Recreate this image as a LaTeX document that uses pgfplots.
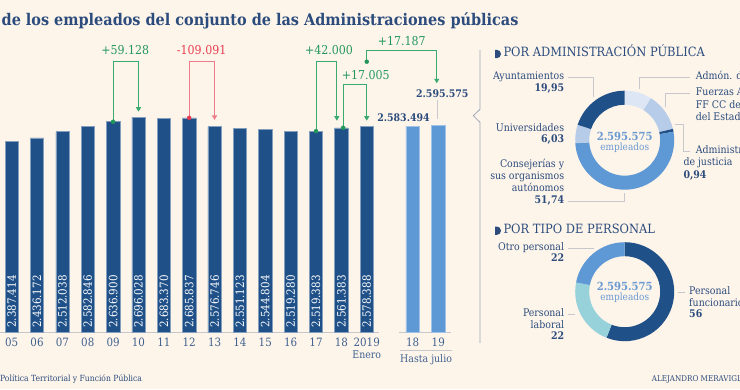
\documentclass[border=0pt]{standalone}
\usepackage{fontspec}
\setmainfont{DejaVu Serif Condensed}
\usepackage{pgfplots}
\usepackage{pgfplotstable}
\pgfplotsset{compat=1.18}
\usetikzlibrary{arrows.meta}
\definecolor{bg}{HTML}{FDF4EA}
\definecolor{barD}{HTML}{1F5088}
\definecolor{barL}{HTML}{5F99D5}
\definecolor{txt}{HTML}{2B4C7C}
\definecolor{tickc}{HTML}{3F618F}
\definecolor{grn}{HTML}{21975A}
\definecolor{grnL}{HTML}{3BAA6E}
\definecolor{rd}{HTML}{E63B4E}
\definecolor{rdL}{HTML}{EE7D8A}
\definecolor{gry}{HTML}{C6C8CE}
\definecolor{sep}{HTML}{9EA6B8}
\definecolor{cen}{HTML}{6A9AD2}
\definecolor{dlA}{HTML}{DCE6F4}
\definecolor{dlB}{HTML}{B7CCE9}
\definecolor{cyn}{HTML}{97D2DB}
\newcommand\fs[1]{\fontsize{#1}{#1}\selectfont}
\pgfplotstableread{
x y lab
0 2387414 2.387.414
1 2436172 2.436.172
2 2512038 2.512.038
3 2582846 2.582.846
4 2636900 2.636.900
5 2696028 2.696.028
6 2683370 2.683.370
7 2685837 2.685.837
8 2576746 2.576.746
9 2551123 2.551.123
10 2544804 2.544.804
11 2519280 2.519.280
12 2519383 2.519.383
13 2561383 2.561.383
14 2578388 2.578.388
}\darkbars
\pgfplotstableread{
x y
15.81 2583494
16.82 2595575
}\lightbars
\newcommand{\donutseg}[3]{%
  \fill[#3] (axis cs:0,0) ++({90-3.6*#1}:49.5bp) arc[start angle={90-3.6*#1}, end angle={90-3.6*#2}, radius=49.5bp]
   -- ++({90-3.6*#2}:-14bp) arc[start angle={90-3.6*#2}, end angle={90-3.6*#1}, radius=35.5bp] -- cycle;}
\begin{document}
\begin{tikzpicture}[x=1bp,y=1bp]
\useasboundingbox (0,0) rectangle (740,389);
\fill[bg] (0,0) rectangle (740,389);
\clip (0,0) rectangle (740,389);
% title
\node[anchor=base west, inner sep=0, text=txt, font=\fs{16.1}\bfseries] at (1.5,364) {de los empleados del conjunto de las Administraciones públicas};
% source
\node[anchor=mid west, inner sep=0, text=txt, font=\fs{8.5}] at (0,10) {Política Territorial y Función Pública};
\node[anchor=mid west, inner sep=0, text=txt, font=\fs{8}] at (651.7,10) {ALEJANDRO MERAVIGLIA};
% main bar chart
\begin{axis}[at={(0bp,56.3bp)}, anchor=south west, scale only axis,
  width=455.5bp, height=312.7bp, xmin=-0.461, xmax=17.5, ymin=0, ymax=3908750,
  axis line style={draw=none}, ytick=\empty, major tick length=0pt,
  xtick={0,1,2,3,4,5,6,7,8,9,10,11,12,13,14,15.81,16.82},
  xticklabels={05,06,07,08,09,10,11,12,13,14,15,16,17,18,2019,18,19},
  xticklabel style={anchor=center, yshift=-9.3bp, font=\fs{11.5}, text=tickc},
  clip=false]
\draw[gry, line width=1bp] (axis cs:-0.47,0) -- (axis cs:14.5,0);
\draw[gry, line width=1bp] (axis cs:15.28,0) -- (axis cs:17.32,0);
\addplot[ybar, bar width=13.3bp, bar shift=0pt, fill=barD, draw=barD!55!white, line width=0.5bp] table[x=x,y=y]{\darkbars};
\addplot[ybar, bar width=13.3bp, bar shift=0pt, fill=barL, draw=barL!60!white, line width=0.5bp] table[x=x,y=y]{\lightbars};
\addplot[draw=none, mark=none, point meta=explicit symbolic, nodes near coords,
  every node near coord/.style={rotate=90, anchor=west, text=white, inner xsep=4.7bp, inner ysep=0pt, font=\fs{11.5}}]
  table[x=x, y expr=0, meta=lab]{\darkbars};
% connectors
\draw[grnL, line width=0.9bp, -{Triangle[width=5bp,length=4.5bp]}] (axis cs:4,2636900) -- (axis cs:4,3396250) -- (axis cs:5,3396250) -- (axis cs:5,2762500);
\draw[rdL, line width=0.9bp, -{Triangle[width=5bp,length=4.5bp]}] (axis cs:7,2685837) -- (axis cs:7,3396250) -- (axis cs:8,3396250) -- (axis cs:8,2658750);
\draw[grnL, line width=0.9bp, -{Triangle[width=5bp,length=4.5bp]}] (axis cs:12,2519383) -- (axis cs:12,3396250) -- (axis cs:12.82,3396250) -- (axis cs:12.82,2650000);
\draw[grnL, line width=0.9bp, -{Triangle[width=5bp,length=4.5bp]}] (axis cs:13.07,2561383) -- (axis cs:13.07,3105000) -- (axis cs:14,3105000) -- (axis cs:14,2650000);
\draw[grnL, line width=0.9bp, -{Triangle[width=5bp,length=4.5bp]}] (axis cs:14,3387500) -- (axis cs:14,3533750) -- (axis cs:16.76,3533750) -- (axis cs:16.76,3117500);
\addplot[only marks, mark=*, mark size=2bp, grn, mark options={draw=grn, fill=grn}] coordinates {(4,2636900) (12,2519383) (13.07,2561383) (14,3387500)};
\addplot[only marks, mark=*, mark size=2bp, rd, mark options={draw=rd, fill=rd}] coordinates {(7,2685837)};
\node[text=grn, font=\fs{12.3}] at (axis cs:4.48,3533750) {+59.128};
\node[text=rd, font=\fs{12.3}] at (axis cs:7.49,3533750) {-109.091};
\node[text=grn, font=\fs{12.3}] at (axis cs:12.51,3533750) {+42.000};
\node[text=grn, font=\fs{12.3}] at (axis cs:13.96,3221250) {+17.005};
\node[text=grn, font=\fs{12.3}] at (axis cs:15.38,3650000) {+17.187};
\node[anchor=east, inner xsep=0, text=txt, font=\fs{10.5}\bfseries] at (axis cs:16.49,2692500) {2.583.494};
\node[anchor=west, inner xsep=0, text=txt, font=\fs{10.5}\bfseries] at (axis cs:15.94,2983750) {2.595.575};
\draw[gry, line width=1bp] (axis cs:16.8,2907500) -- (axis cs:16.8,2667500);
\node[text=tickc, font=\fs{10.5}] at (axis cs:14,-270000) {Enero};
\node[text=tickc, font=\fs{10.5}] at (axis cs:16.34,-332500) {Hasta julio};
\draw[gry, line width=0.8bp] (axis cs:15.32,-216250) -- (axis cs:17.35,-216250);
\end{axis}
% separator
\draw[sep, line width=0.8bp] (480,339) -- (480,279.7) -- (473.3,273.3) -- (480,266.7) -- (480,46);
% donut 1
\begin{axis}[at={(624.7bp,248.8bp)}, anchor=center, scale only axis, width=110bp, height=110bp,
  xmin=-55, xmax=55, ymin=-55, ymax=55, hide axis, clip=false]
\donutseg{0}{8.9}{dlA}
\donutseg{8.9}{21.34}{dlB}
\donutseg{21.34}{22.28}{barD}
\donutseg{22.28}{74.02}{barL}
\donutseg{74.02}{80.05}{dlB}
\donutseg{80.05}{100}{barD}
\end{axis}
% donut 2
\begin{axis}[at={(624.7bp,97.3bp)}, anchor=center, scale only axis, width=110bp, height=110bp,
  xmin=-55, xmax=55, ymin=-55, ymax=55, hide axis, clip=false]
\donutseg{0}{56}{barD}
\donutseg{56}{78}{cyn}
\donutseg{78}{100}{barL}
\end{axis}
% headers
\fill[txt] (495,330.8) -- (496.8,330.8) arc[start angle=-90, end angle=90, radius=4.2] -- (495,339.2) -- cycle;
\node[anchor=mid west, inner sep=0, text=txt, font=\fs{12.8}] at (503.3,335) {POR ADMINISTRACIÓN PÚBLICA};
\fill[txt] (495,154.1) -- (496.8,154.1) arc[start angle=-90, end angle=90, radius=4.2] -- (495,162.5) -- cycle;
\node[anchor=mid west, inner sep=0, text=txt, font=\fs{12.8}] at (503.3,158.3) {POR TIPO DE PERSONAL};
% centre texts
\node[text=cen, font=\fs{11.2}\bfseries] at (624.7,252.3) {2.595.575};
\node[text=cen, font=\fs{10}] at (624.7,241.7) {empleados};
\node[text=cen, font=\fs{11.2}\bfseries] at (624.7,102.3) {2.595.575};
\node[text=cen, font=\fs{10}] at (624.7,91.7) {empleados};
% leaders
\begin{scope}[gry, line width=0.8bp]
\draw (567.7,312) -- (593.3,312) -- (593.3,292.3);
\draw (567.7,187.7) -- (624.3,187.7) -- (624.3,196.3);
\draw (690,312) -- (639.3,312) -- (639.3,300);
\draw (690,295.7) -- (665,295.7) -- (665,282.3);
\draw (674.5,264.7) -- (683.3,264.7) -- (683.3,238) -- (690,238);
\draw (567.7,140.7) -- (594,140.7);
\draw (567.7,75) -- (575.3,75);
\draw (678.3,97) -- (685,97);
\end{scope}
% labels donut 1
\begin{scope}[every node/.style={inner sep=0, text=txt, font=\fs{10.5}}]
\node[anchor=mid east] at (564.3,312.3) {Ayuntamientos};
\node[anchor=mid east, font=\fs{10.5}\bfseries] at (564.3,300) {19,95};
\node[anchor=mid east] at (564.3,260.3) {Universidades};
\node[anchor=mid east, font=\fs{10.5}\bfseries] at (564.3,248.7) {6,03};
\node[anchor=mid east] at (564.3,224) {Consejerías y};
\node[anchor=mid east] at (564.3,211.7) {sus organismos};
\node[anchor=mid east] at (564.3,199.7) {autónomos};
\node[anchor=mid east, font=\fs{10.5}\bfseries] at (564.3,187.7) {51,74};
\node[anchor=mid west] at (695.7,312.3) {Admón. del Estado};
\node[anchor=mid west] at (695.7,295.7) {Fuerzas Armadas y};
\node[anchor=mid west] at (695.7,283) {FF CC de seguridad};
\node[anchor=mid west] at (695.7,270.7) {del Estado};
\node[anchor=mid west] at (695.7,238) {Administración};
\node[anchor=mid west] at (683.3,225.7) {de justicia};
\node[anchor=mid west, font=\fs{10.5}\bfseries] at (683.3,213.3) {0,94};
% donut 2
\node[anchor=mid east] at (564.3,140.7) {Otro personal};
\node[anchor=mid east, font=\fs{10.5}\bfseries] at (564.3,129.7) {22};
\node[anchor=mid east] at (564.3,75) {Personal};
\node[anchor=mid east] at (564.3,63) {laboral};
\node[anchor=mid east, font=\fs{10.5}\bfseries] at (564.3,52) {22};
\node[anchor=mid west] at (689,97) {Personal};
\node[anchor=mid west] at (689,85) {funcionario};
\node[anchor=mid west, font=\fs{10.5}\bfseries] at (689,73.7) {56};
\end{scope}
\end{tikzpicture}
\end{document}
